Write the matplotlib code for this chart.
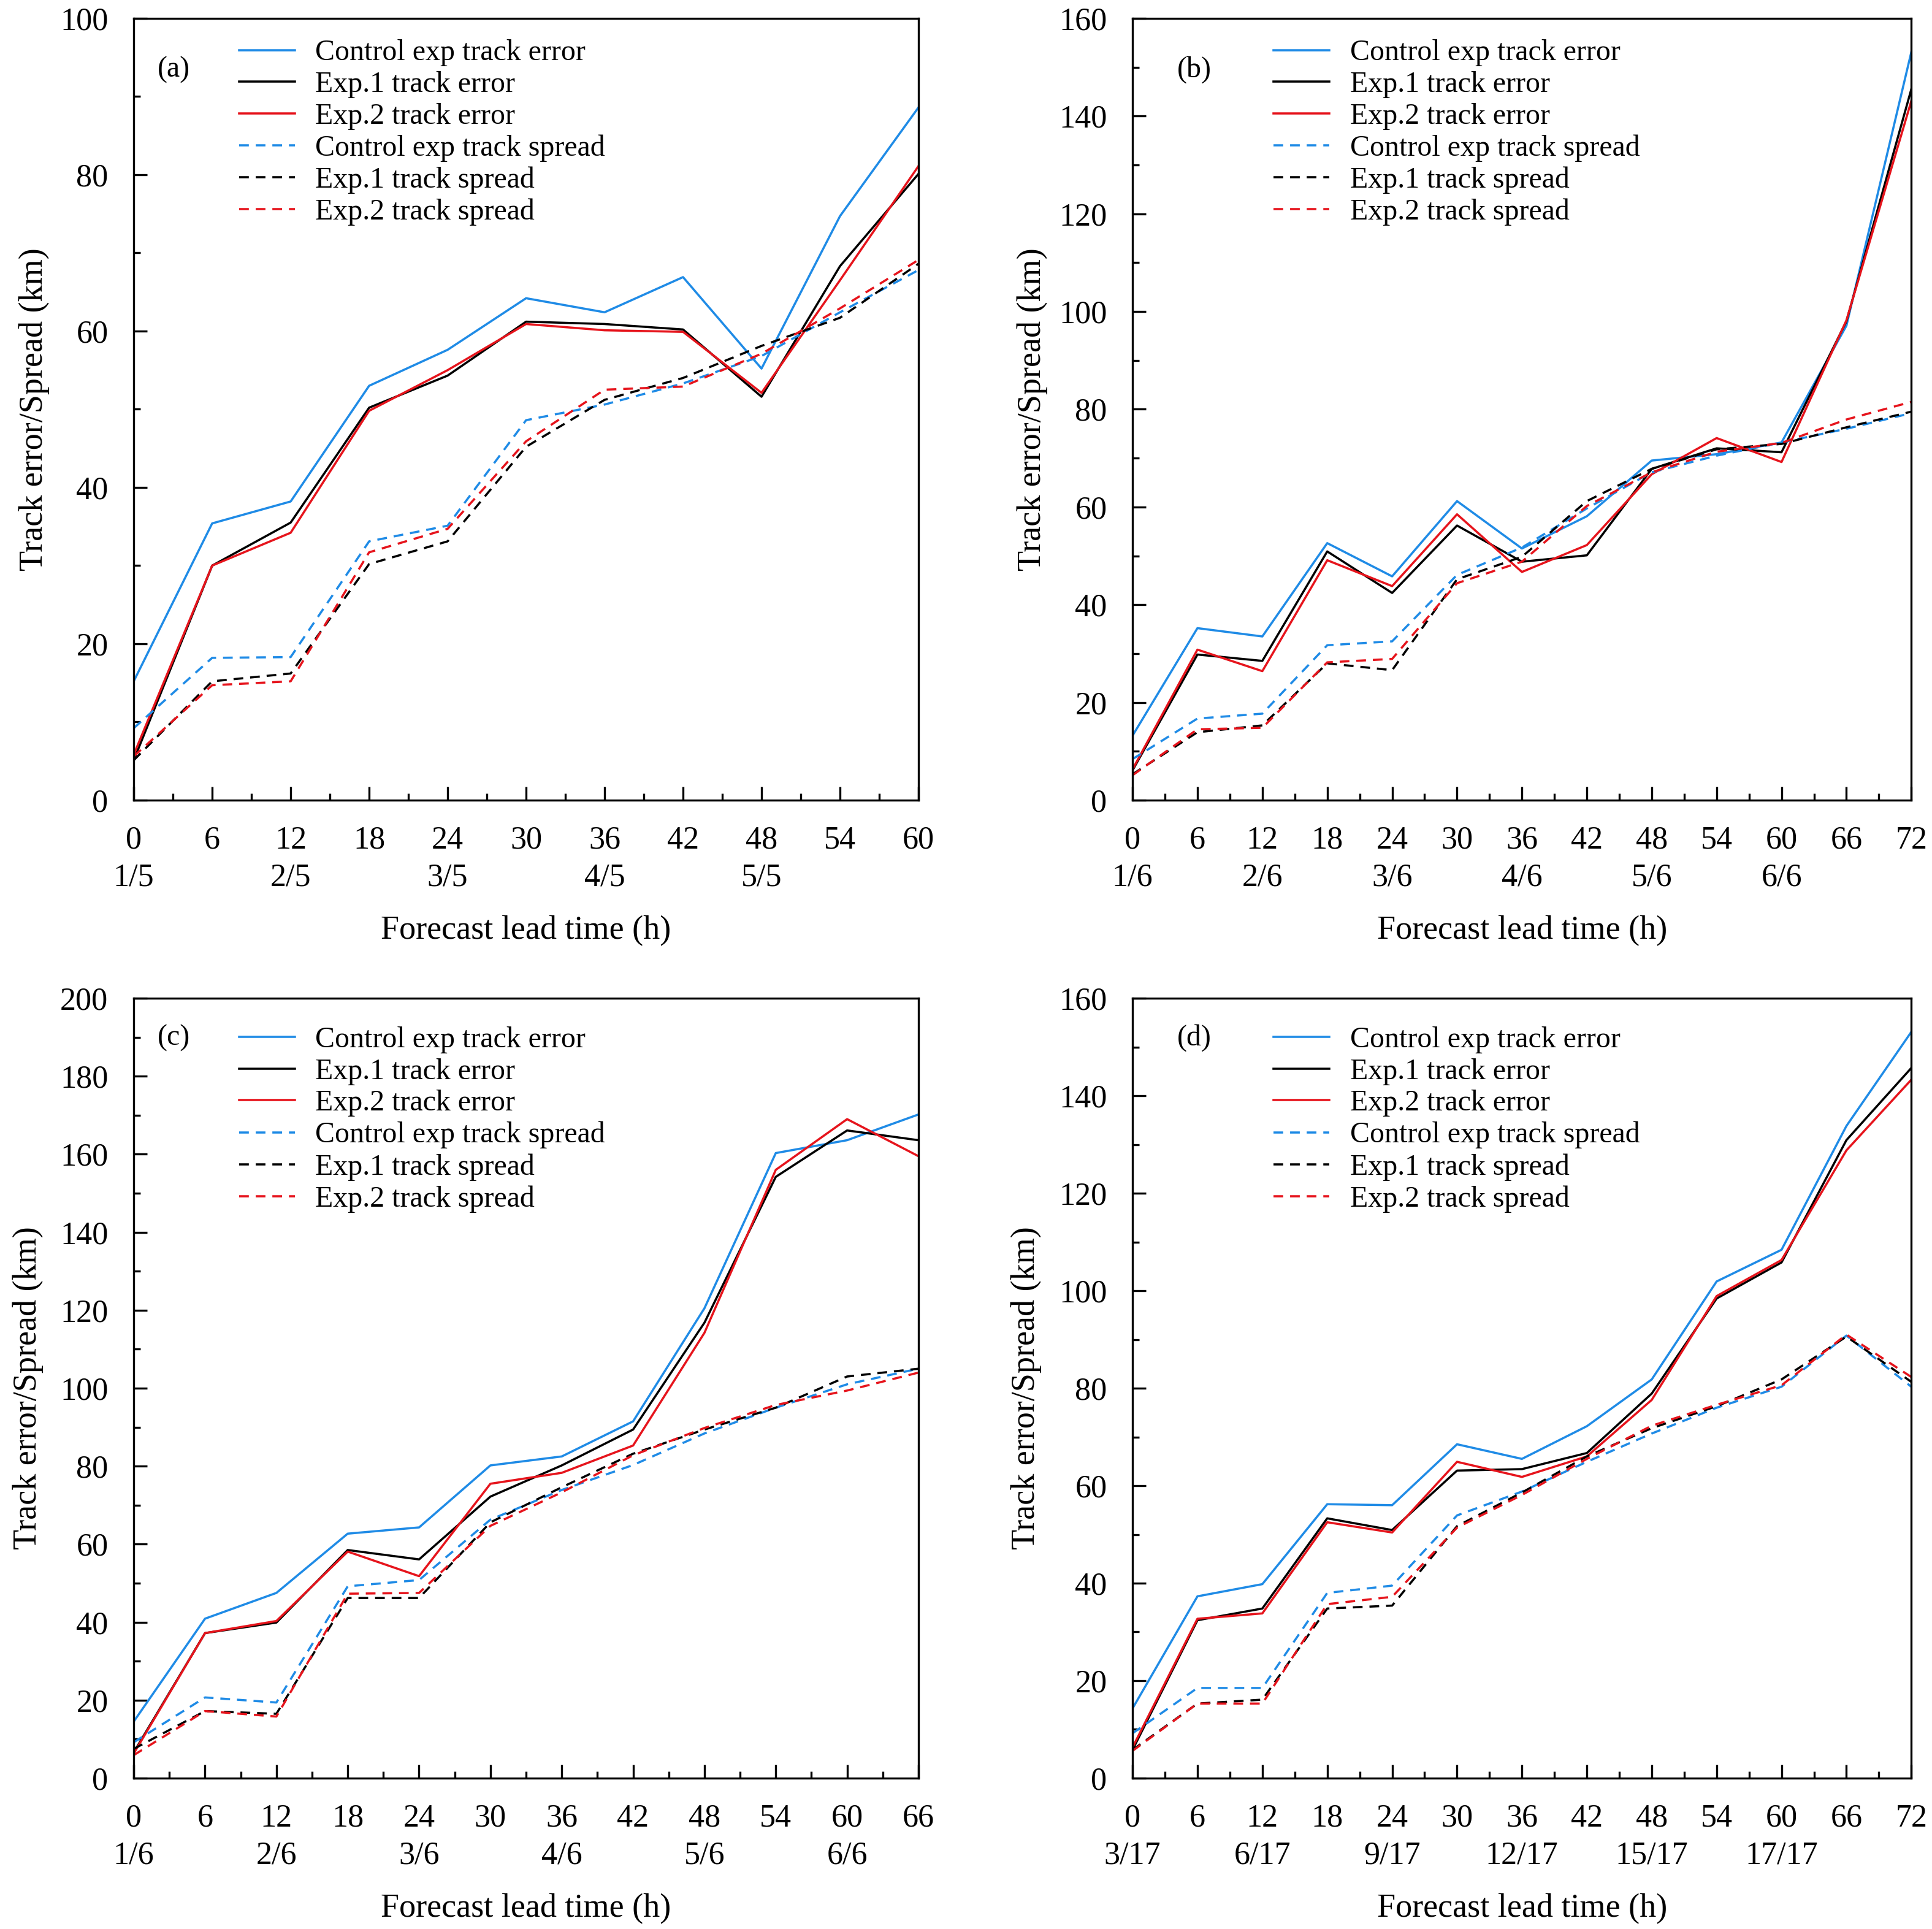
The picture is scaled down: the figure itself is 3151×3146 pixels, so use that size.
import matplotlib
matplotlib.use("Agg")
import matplotlib.pyplot as plt
from matplotlib.ticker import MultipleLocator

plt.rcParams["font.family"] = ["Liberation Serif", "DejaVu Serif"]
plt.rcParams["lines.scale_dashes"] = False

BLUE = "#1f8be6"
RED = "#e6141c"
BLACK = "#000000"

# --- (a) ---
lead_a = [0, 6, 12, 18, 24, 30, 36, 42, 48, 54, 60]
dates_a = ["1/5", "2/5", "3/5", "4/5", "5/5"]
ctl_err_a = [15.2, 35.4, 38.2, 53.0, 57.6, 64.2, 62.4, 66.9, 55.2, 74.7, 88.6]
e1_err_a = [5.1, 30.0, 35.5, 50.2, 54.3, 61.2, 60.9, 60.2, 51.6, 68.3, 80.1]
e2_err_a = [5.8, 30.0, 34.2, 49.8, 55.0, 60.9, 60.1, 59.9, 52.1, 66.5, 81.1]
ctl_spr_a = [9.2, 18.2, 18.3, 33.1, 35.1, 48.6, 50.6, 53.3, 56.8, 62.4, 67.8]
e1_spr_a = [5.1, 15.2, 16.2, 30.2, 33.1, 45.2, 51.2, 54.0, 58.1, 61.7, 68.6]
e2_spr_a = [5.6, 14.7, 15.2, 31.7, 34.7, 45.9, 52.5, 52.9, 57.1, 62.9, 69.1]

# --- (b) ---
lead_b = [0, 6, 12, 18, 24, 30, 36, 42, 48, 54, 60, 66, 72]
dates_b = ["1/6", "2/6", "3/6", "4/6", "5/6", "6/6"]
ctl_err_b = [13.2, 35.2, 33.5, 52.6, 45.8, 61.2, 51.5, 58.1, 69.5, 70.8, 73.2, 97.1, 153.1]
e1_err_b = [6.1, 29.8, 28.5, 50.9, 42.4, 56.2, 48.8, 50.1, 67.8, 72.0, 71.2, 98.0, 145.5]
e2_err_b = [6.3, 30.8, 26.4, 49.1, 43.8, 58.5, 46.7, 52.2, 66.7, 74.1, 69.2, 98.2, 143.1]
ctl_spr_b = [8.4, 16.7, 17.7, 31.7, 32.5, 46.1, 51.7, 59.7, 67.1, 70.5, 73.2, 76.0, 79.2]
e1_spr_b = [5.3, 13.9, 15.3, 28.0, 26.6, 45.2, 49.8, 61.2, 67.8, 71.8, 72.9, 76.3, 79.5]
e2_spr_b = [5.1, 14.5, 14.8, 28.2, 28.9, 44.4, 48.8, 60.2, 67.1, 71.3, 73.1, 77.9, 81.5]

# --- (c) ---
lead_c = [0, 6, 12, 18, 24, 30, 36, 42, 48, 54, 60, 66]
dates_c = ["1/6", "2/6", "3/6", "4/6", "5/6", "6/6"]
ctl_err_c = [14.5, 40.9, 47.5, 62.7, 64.3, 80.2, 82.5, 91.5, 120.5, 160.3, 163.6, 170.2]
e1_err_c = [6.6, 37.2, 39.9, 58.5, 56.1, 72.2, 80.2, 89.4, 116.8, 154.2, 166.1, 163.6]
e2_err_c = [6.3, 37.2, 40.3, 58.1, 51.8, 75.5, 78.3, 85.3, 114.2, 156.0, 169.0, 159.5]
ctl_spr_c = [9.2, 20.7, 19.4, 49.2, 50.8, 66.3, 73.9, 80.3, 88.4, 95.0, 101.0, 105.0]
e1_spr_c = [7.5, 17.2, 16.5, 46.2, 46.2, 65.6, 74.6, 83.2, 89.4, 95.0, 103.0, 105.0]
e2_spr_c = [5.9, 17.2, 15.8, 47.3, 47.5, 64.7, 73.3, 82.8, 89.8, 95.7, 99.4, 104.0]

# --- (d) ---
lead_d = [0, 6, 12, 18, 24, 30, 36, 42, 48, 54, 60, 66, 72]
dates_d = ["3/17", "6/17", "9/17", "12/17", "15/17", "17/17"]
ctl_err_d = [14.3, 37.3, 39.8, 56.2, 56.0, 68.5, 65.5, 72.2, 81.8, 101.9, 108.4, 133.8, 153.1]
e1_err_d = [5.8, 32.4, 34.8, 53.3, 50.9, 63.1, 63.4, 66.7, 78.9, 98.4, 105.8, 130.9, 145.7]
e2_err_d = [6.3, 32.7, 33.8, 52.5, 50.4, 64.9, 61.8, 66.0, 77.6, 98.9, 106.3, 128.8, 143.3]
ctl_spr_d = [9.2, 18.5, 18.5, 38.0, 39.5, 53.9, 58.8, 64.9, 70.7, 76.0, 80.3, 90.8, 80.3]
e1_spr_d = [5.8, 15.3, 16.1, 34.8, 35.4, 51.7, 58.6, 66.0, 71.8, 76.3, 81.8, 90.6, 81.3]
e2_spr_d = [5.6, 15.3, 15.3, 35.7, 37.2, 51.4, 58.1, 65.5, 72.3, 76.6, 80.6, 91.0, 82.3]

labels = ["Control exp track error", "Exp.1 track error", "Exp.2 track error",
          "Control exp track spread", "Exp.1 track spread", "Exp.2 track spread"]

panels = [
    # tag, rect, ymax, lead, dates, series, legend anchor, tag pos, ylabel x
    ("(a)", [0.0692, 0.5852, 0.4062, 0.4053], 100, lead_a, dates_a,
     [ctl_err_a, e1_err_a, e2_err_a, ctl_spr_a, e1_spr_a, e2_spr_a],
     (0.134, 0.973), (0.051, 0.934), -0.107),
    ("(b)", [0.5862, 0.5852, 0.4031, 0.4053], 160, lead_b, dates_b,
     [ctl_err_b, e1_err_b, e2_err_b, ctl_spr_b, e1_spr_b, e2_spr_b],
     (0.181, 0.973), (0.079, 0.934), -0.109),
    ("(c)", [0.0692, 0.0782, 0.4062, 0.4043], 200, lead_c, dates_c,
     [ctl_err_c, e1_err_c, e2_err_c, ctl_spr_c, e1_spr_c, e2_spr_c],
     (0.134, 0.964), (0.051, 0.949), -0.115),
    ("(d)", [0.5862, 0.0782, 0.4031, 0.4043], 160, lead_d, dates_d,
     [ctl_err_d, e1_err_d, e2_err_d, ctl_spr_d, e1_spr_d, e2_spr_d],
     (0.181, 0.964), (0.079, 0.949), -0.117),
]

styles = [(BLUE, "-"), (BLACK, "-"), (RED, "-"), (BLUE, "--"), (BLACK, "--"), (RED, "--")]

fig = plt.figure(figsize=(3151 / 300, 3146 / 300), dpi=300)

for tag, rect, ymax, lead, dates, series, leg_xy, tag_xy, ylab_x in panels:
    ax = fig.add_axes(rect)
    for (color, ls), vals, lab in zip(styles, series, labels):
        line, = ax.plot(lead, vals, color=color, lw=0.85, label=lab)
        if ls == "--":
            line.set_dashes((3.8, 2.7))

    ax.set_xlim(0, lead[-1])
    ax.set_ylim(0, ymax)
    ax.xaxis.set_major_locator(MultipleLocator(6))
    ax.xaxis.set_minor_locator(MultipleLocator(3))
    ax.yaxis.set_major_locator(MultipleLocator(20))
    ax.yaxis.set_minor_locator(MultipleLocator(10))

    # два ряда подписей: часы и дата каждые 12 ч
    ticklabels = []
    for h in lead:
        if h % 12 == 0 and h // 12 < len(dates):
            ticklabels.append(f"{h}\n{dates[h // 12]}")
        else:
            ticklabels.append(f"{h}")
    ax.set_xticks(lead)
    ax.set_xticklabels(ticklabels, linespacing=1.35)

    ax.tick_params(which="both", direction="in", top=False, right=False,
                   labelsize=12.5, pad=10, width=0.8)
    ax.tick_params(which="major", length=5.3)
    ax.tick_params(which="minor", length=2.6)
    for sp in ax.spines.values():
        sp.set_linewidth(0.8)

    ax.set_xlabel("Forecast lead time (h)", fontsize=13, labelpad=9)
    ax.set_ylabel("Track error/Spread (km)", fontsize=13)
    ax.yaxis.set_label_coords(ylab_x, 0.5)

    ax.text(tag_xy[0], tag_xy[1], tag, transform=ax.transAxes, fontsize=11.5,
            ha="center", va="center")
    ax.legend(loc="upper left", bbox_to_anchor=leg_xy, frameon=False, fontsize=11.5,
              handlelength=1.9, handletextpad=0.7, labelspacing=0.16,
              borderpad=0, borderaxespad=0)

fig.savefig("out.png", dpi=300)
